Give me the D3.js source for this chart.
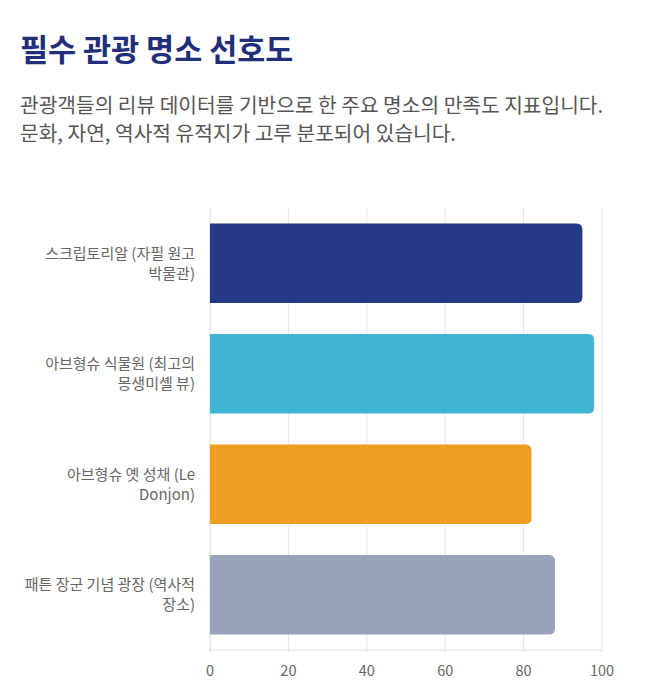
<!DOCTYPE html>
<html>
<head>
<meta charset="utf-8">
<script src="https://cdn.jsdelivr.net/npm/d3@7"></script>
<style>
  body { margin: 0; background: #fff; font-family: "Noto Sans CJK KR", "Noto Sans", sans-serif; }
  #chart { width: 652px; height: 700px; }
</style>
</head>
<body>
<div id="chart"></div>
<script>
// Chart data
const title = "필수 관광 명소 선호도";
const subtitle = [
    "관광객들의 리뷰 데이터를 기반으로 한 주요 명소의 만족도 지표입니다.",
    "문화, 자연, 역사적 유적지가 고루 분포되어 있습니다."
];
const categories = [
    ["스크립토리알 (자필 원고", "박물관)"],
    ["아브형슈 식물원 (최고의", "몽생미셸 뷰)"],
    ["아브형슈 옛 성채 (Le", "Donjon)"],
    ["패튼 장군 기념 광장 (역사적", "장소)"]
];
const values = [95, 98, 82, 88];
const colors = ["#263987", "#3fb4d3", "#ee9f22", "#97a3b8"];
const xTicks = [0, 20, 40, 60, 80, 100];

const svg = d3.select("#chart").append("svg")
    .attr("width", 652)
    .attr("height", 700);

// Title and description
svg.append("text")
    .attr("x", 20)
    .attr("y", 61)
    .attr("fill", "#1f2f7a")
    .style("font-size", "30.5px")
    .style("font-weight", 700)
    .text(title);

svg.selectAll(".sub")
    .data(subtitle)
  .enter().append("text")
    .attr("class", "sub")
    .attr("x", 20)
    .attr("y", (d, i) => 113 + i * 28)
    .attr("fill", "#555")
    .style("font-size", "20.3px")
    .text(d => d);

// Plot area
const margin = {top: 208, left: 210, right: 50, bottom: 50};
const height = 650 - margin.top;

const g = svg.append("g")
    .attr("transform", `translate(${margin.left},${margin.top})`);

const x = d3.scaleLinear()
    .domain([0, 100])
    .range([0, 392]);

const y = d3.scaleBand()
    .domain(d3.range(categories.length))
    .range([0, height])
    .paddingInner(0.28)
    .paddingOuter(0.14);

// Grid lines
g.selectAll(".grid")
    .data(xTicks)
  .enter().append("line")
    .attr("x1", d => x(d))
    .attr("x2", d => x(d))
    .attr("y1", 0)
    .attr("y2", height + 2)
    .attr("stroke", d => d === 0 ? "#d8d8d8" : "#e6e6e6")
    .attr("stroke-width", 1);

g.append("line")
    .attr("x1", 0)
    .attr("x2", x(100))
    .attr("y1", height)
    .attr("y2", height)
    .attr("stroke", "#e0e0e0");

// Bars with rounded right corners
const r = 6;
g.selectAll(".bar")
    .data(values)
  .enter().append("path")
    .attr("class", "bar")
    .attr("fill", (d, i) => colors[i])
    .attr("d", (d, i) => {
        const y0 = y(i), h = y.bandwidth(), w = x(d);
        return `M0,${y0}H${w - r}Q${w},${y0} ${w},${y0 + r}V${y0 + h - r}Q${w},${y0 + h} ${w - r},${y0 + h}H0Z`;
    });

// Category labels
const labels = g.selectAll(".label")
    .data(categories)
  .enter().append("text")
    .attr("class", "label")
    .attr("text-anchor", "end")
    .attr("fill", "#666")
    .style("font-size", "15px")
    .attr("transform", (d, i) => `translate(-15,${y(i) + y.bandwidth() / 2})`);

labels.selectAll("tspan")
    .data(d => d.map((t, j) => ({t, j, n: d.length})))
  .enter().append("tspan")
    .attr("x", 0)
    .attr("y", d => (d.j - (d.n - 1) / 2) * 20)
    .attr("dy", "0.35em")
    .text(d => d.t);

// X tick labels
g.selectAll(".tick-label")
    .data(xTicks)
  .enter().append("text")
    .attr("x", d => x(d))
    .attr("y", height + 21)
    .attr("dy", "0.35em")
    .attr("text-anchor", "middle")
    .attr("fill", "#666")
    .style("font-size", "14.5px")
    .text(d => d);
</script>
</body>
</html>
